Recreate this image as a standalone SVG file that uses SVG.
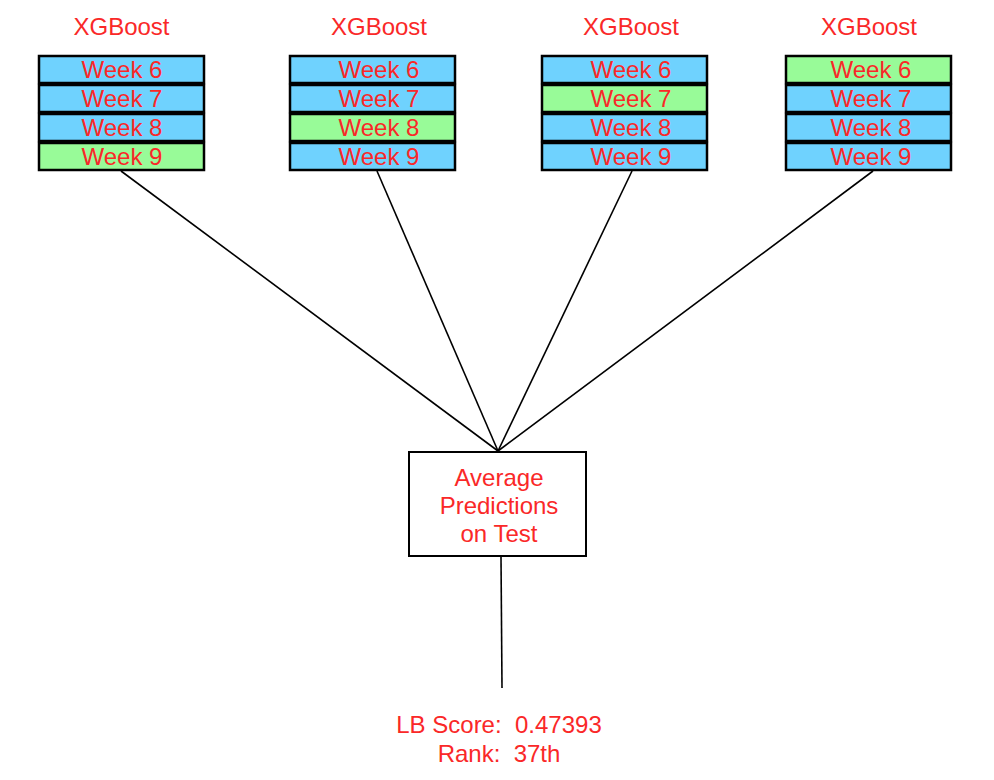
<svg xmlns="http://www.w3.org/2000/svg" width="994" height="780" viewBox="0 0 994 780">
<style>
.t{font-family:"Liberation Sans",Arial,sans-serif;fill:#fa2828;text-anchor:middle;font-size:24px}
.b{fill:#6fd2fe;stroke:#000;stroke-width:2.5}
.g{fill:#98fb98;stroke:#000;stroke-width:2.5}
.c{stroke:#000;stroke-width:1.6;fill:none}
</style>
<rect width="994" height="780" fill="#fff"/>
<g id="connectors">
<line class="c" x1="121" y1="171" x2="498" y2="451"/>
<line class="c" x1="377" y1="171" x2="498" y2="451"/>
<line class="c" x1="632" y1="171" x2="498" y2="451"/>
<line class="c" x1="873" y1="171" x2="498" y2="451"/>
<line class="c" x1="501" y1="557" x2="502" y2="688"/>
</g>
<g id="model1">
<text class="t" x="121.5" y="35">XGBoost</text>
<rect class="b" x="39" y="56" width="165" height="27"/>
<rect class="b" x="39" y="85" width="165" height="27"/>
<rect class="b" x="39" y="114" width="165" height="27"/>
<rect class="g" x="39" y="143" width="165" height="27"/>
<text class="t" x="122" y="77.5">Week 6</text>
<text class="t" x="122" y="106.5">Week 7</text>
<text class="t" x="122" y="135.5">Week 8</text>
<text class="t" x="122" y="164.5">Week 9</text>
</g>
<g id="model2">
<text class="t" x="379" y="35">XGBoost</text>
<rect class="b" x="290" y="56" width="165" height="27"/>
<rect class="b" x="290" y="85" width="165" height="27"/>
<rect class="g" x="290" y="114" width="165" height="27"/>
<rect class="b" x="290" y="143" width="165" height="27"/>
<text class="t" x="379" y="77.5">Week 6</text>
<text class="t" x="379" y="106.5">Week 7</text>
<text class="t" x="379" y="135.5">Week 8</text>
<text class="t" x="379" y="164.5">Week 9</text>
</g>
<g id="model3">
<text class="t" x="631" y="35">XGBoost</text>
<rect class="b" x="542" y="56" width="165" height="27"/>
<rect class="g" x="542" y="85" width="165" height="27"/>
<rect class="b" x="542" y="114" width="165" height="27"/>
<rect class="b" x="542" y="143" width="165" height="27"/>
<text class="t" x="631" y="77.5">Week 6</text>
<text class="t" x="631" y="106.5">Week 7</text>
<text class="t" x="631" y="135.5">Week 8</text>
<text class="t" x="631" y="164.5">Week 9</text>
</g>
<g id="model4">
<text class="t" x="869" y="35">XGBoost</text>
<rect class="g" x="786" y="56" width="165" height="27"/>
<rect class="b" x="786" y="85" width="165" height="27"/>
<rect class="b" x="786" y="114" width="165" height="27"/>
<rect class="b" x="786" y="143" width="165" height="27"/>
<text class="t" x="871" y="77.5">Week 6</text>
<text class="t" x="871" y="106.5">Week 7</text>
<text class="t" x="871" y="135.5">Week 8</text>
<text class="t" x="871" y="164.5">Week 9</text>
</g>
<g id="average">
<rect x="409" y="452" width="177" height="104" fill="#fff" stroke="#000" stroke-width="2"/>
<text class="t" x="499" y="486">Average</text>
<text class="t" x="499" y="514">Predictions</text>
<text class="t" x="499" y="542">on Test</text>
</g>
<g id="result">
<text class="t" x="499" y="733" xml:space="preserve">LB Score:  0.47393</text>
<text class="t" x="499" y="762" xml:space="preserve">Rank:  37th</text>
</g>
</svg>
